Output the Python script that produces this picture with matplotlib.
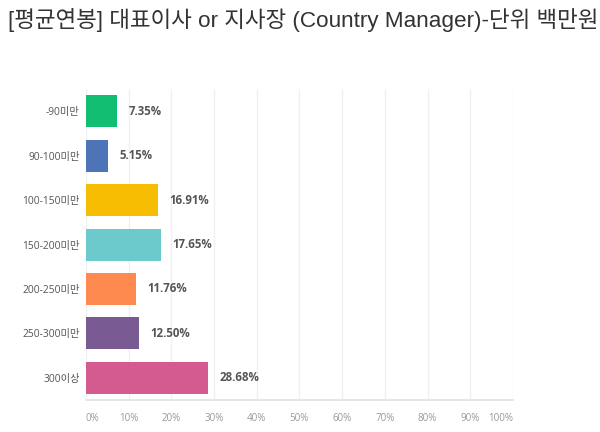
import matplotlib
matplotlib.use("Agg")
import matplotlib.pyplot as plt
from matplotlib.ticker import FixedLocator

plt.rcParams['font.family'] = ['Open Sans', 'Noto Sans CJK KR', 'DejaVu Sans']

categories = ["-90미만", "90-100미만", "100-150미만", "150-200미만", "200-250미만", "250-300미만", "300이상"]
values = [7.35, 5.15, 16.91, 17.65, 11.76, 12.50, 28.68]
value_labels = ["7.35%", "5.15%", "16.91%", "17.65%", "11.76%", "12.50%", "28.68%"]
colors = ["#12bf72", "#4d74b6", "#f7bd02", "#6cc9cc", "#fe8a50", "#7a5a92", "#d45b8f"]
xticks = [0, 10, 20, 30, 40, 50, 60, 70, 80, 90, 100]
xtick_labels = ["0%", "10%", "20%", "30%", "40%", "50%", "60%", "70%", "80%", "90%", "100%"]
title = "[평균연봉] 대표이사 or 지사장 (Country Manager)-단위 백만원"

fig = plt.figure(figsize=(6, 4.32), dpi=100)
ax = fig.add_axes([0.1433, 0.074, 0.855 - 0.1433, 0.794 - 0.074])

ypos = list(range(len(categories)))
ax.barh(ypos, values, height=0.72, color=colors, zorder=3)
for y, v, lab in zip(ypos, values, value_labels):
    ax.text(v + 2.6, y, lab, va='center', ha='left', fontsize=8.3,
            fontweight='bold', color='#555555', zorder=4)

ax.set_ylim(6.5, -0.5)
ax.set_xlim(0, 100)
ax.set_yticks(ypos)
ax.set_yticklabels(categories, fontsize=7.4, color='#555555')
ax.xaxis.set_major_locator(FixedLocator(xticks))
ax.set_xticklabels(xtick_labels, fontsize=7, color='#999999')
xl = ax.get_xticklabels()
xl[0].set_ha('left')
xl[-1].set_ha('right')
ax.tick_params(axis='both', length=0)
ax.tick_params(axis='y', pad=4.5)
ax.tick_params(axis='x', pad=9)
ax.grid(axis='x', color='#f0f0f0', linewidth=1, zorder=0)
for s in ['top', 'left', 'right']:
    ax.spines[s].set_visible(False)
ax.spines['bottom'].set_color('#e2e2e2')
ax.spines['bottom'].set_linewidth(1.2)

fig.text(0.013, 0.954, title, fontsize=16.2, color='#333333', ha='left', va='center',
         family=['Liberation Sans', 'Noto Sans CJK KR'])

fig.savefig("out.png", dpi=100, facecolor='white')
